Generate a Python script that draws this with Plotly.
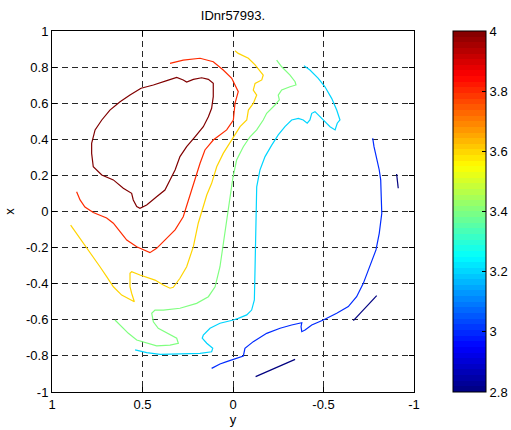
import plotly.graph_objects as go
import numpy as np

# ---------------- data ----------------
# contour levels
lvl_darkred = 4.0
lvl_red = 3.8
lvl_yellow = 3.6
lvl_green = 3.4
lvl_cyan = 3.2
lvl_blue = 3.0
lvl_navy = 2.8

# each contour: horizontal value ("y" axis, reversed) and vertical value ("x")
c40_h = [0.508, 0.440, 0.366, 0.311, 0.275, 0.256, 0.219, 0.173, 0.136, 0.109, 0.109, 0.118,
         0.136, 0.164, 0.210, 0.256, 0.293, 0.320, 0.348, 0.376, 0.422, 0.477, 0.514, 0.532,
         0.551, 0.560, 0.606, 0.661, 0.725, 0.772, 0.781, 0.781, 0.762, 0.725, 0.680, 0.624,
         0.569, 0.508]
c40_v = [0.683, 0.701, 0.725, 0.743, 0.729, 0.717, 0.732, 0.741, 0.732, 0.710, 0.636, 0.572,
         0.525, 0.470, 0.414, 0.359, 0.304, 0.230, 0.175, 0.119, 0.082, 0.036, 0.018, 0.027,
         0.064, 0.101, 0.129, 0.175, 0.202, 0.248, 0.322, 0.378, 0.452, 0.507, 0.562, 0.608,
         0.645, 0.683]

c38_h = [0.864, 0.845, 0.818, 0.772, 0.698, 0.661, 0.624, 0.587, 0.532, 0.496, 0.459, 0.422,
         0.376, 0.320, 0.275, 0.247, 0.210, 0.182, 0.155, 0.109, 0.035, -0.002, -0.011, -0.029,
         0.007, 0.054, 0.109, 0.182, 0.275, 0.348]
c38_v = [0.110, 0.064, 0.025, -0.006, -0.036, -0.065, -0.112, -0.158, -0.195, -0.213, -0.228,
         -0.204, -0.158, -0.102, -0.029, 0.064, 0.175, 0.267, 0.341, 0.396, 0.452, 0.507, 0.599,
         0.664, 0.738, 0.784, 0.830, 0.849, 0.839, 0.821]

c36_h = [0.897, 0.864, 0.827, 0.772, 0.735, 0.698, 0.661, 0.615, 0.569, 0.545, 0.560, 0.569,
         0.569, 0.560, 0.514, 0.477, 0.431, 0.385, 0.348, 0.330, 0.293, 0.256, 0.219, 0.192,
         0.164, 0.145, 0.118, 0.090, 0.054, 0.017, -0.017, -0.039, -0.076, -0.085, -0.112,
         -0.131, -0.112, -0.122, -0.159, -0.167, -0.122, -0.085, -0.029, -0.011]
c36_v = [-0.075, -0.121, -0.176, -0.250, -0.306, -0.361, -0.417, -0.463, -0.490, -0.500, -0.453,
         -0.417, -0.342, -0.334, -0.352, -0.365, -0.380, -0.407, -0.425, -0.420, -0.370, -0.306,
         -0.195, -0.065, 0.036, 0.091, 0.156, 0.248, 0.322, 0.378, 0.433, 0.470, 0.507, 0.562,
         0.599, 0.645, 0.673, 0.710, 0.729, 0.756, 0.812, 0.849, 0.876, 0.891]

c34_h = [0.652, 0.615, 0.578, 0.532, 0.477, 0.422, 0.348, 0.302, 0.311, 0.357, 0.413, 0.440,
         0.449, 0.431, 0.385, 0.293, 0.201, 0.136, 0.099, 0.072, 0.054, 0.035, 0.026, 0.017,
         0.000, -0.020, -0.057, -0.094, -0.131, -0.167, -0.186, -0.232, -0.256, -0.250, -0.269,
         -0.315, -0.348, -0.343, -0.315, -0.269, -0.241]
c34_v = [-0.601, -0.638, -0.675, -0.712, -0.730, -0.744, -0.740, -0.730, -0.702, -0.675, -0.647,
         -0.611, -0.564, -0.546, -0.546, -0.536, -0.509, -0.472, -0.417, -0.306, -0.176, -0.047,
         0.003, 0.091, 0.191, 0.285, 0.359, 0.414, 0.452, 0.507, 0.544, 0.590, 0.618, 0.645,
         0.673, 0.691, 0.701, 0.719, 0.756, 0.802, 0.839]

c32_h = [0.541, 0.477, 0.403, 0.293, 0.182, 0.118, 0.112, 0.145, 0.170, 0.164, 0.127, 0.072,
         0.035, -0.002, -0.029, -0.076, -0.103, -0.118, -0.122, -0.125, -0.131, -0.149, -0.177,
         -0.214, -0.250, -0.287, -0.324, -0.361, -0.388, -0.410, -0.425, -0.435, -0.453, -0.471,
         -0.499, -0.536, -0.564, -0.576, -0.591, -0.573, -0.545, -0.508, -0.471, -0.425, -0.392]
c32_v = [-0.767, -0.782, -0.791, -0.789, -0.786, -0.777, -0.758, -0.730, -0.702, -0.684, -0.647,
         -0.619, -0.611, -0.601, -0.592, -0.573, -0.546, -0.490, -0.306, -0.047, 0.137, 0.230,
         0.304, 0.368, 0.424, 0.470, 0.507, 0.516, 0.507, 0.489, 0.507, 0.544, 0.553, 0.535,
         0.507, 0.470, 0.452, 0.489, 0.507, 0.562, 0.627, 0.691, 0.738, 0.784, 0.808]

c30_h = [0.118, 0.072, 0.035, -0.002, -0.057, -0.066, -0.112, -0.186, -0.260, -0.324, -0.380,
         -0.376, -0.380, -0.398, -0.435, -0.499, -0.573, -0.637, -0.683, -0.720, -0.757, -0.790,
         -0.808, -0.822, -0.819, -0.816, -0.808, -0.794, -0.779, -0.772]
c30_v = [-0.869, -0.845, -0.832, -0.819, -0.801, -0.758, -0.721, -0.675, -0.647, -0.629, -0.616,
         -0.638, -0.666, -0.657, -0.629, -0.601, -0.564, -0.527, -0.472, -0.398, -0.306, -0.213,
         -0.121, -0.010, 0.082, 0.175, 0.230, 0.285, 0.359, 0.406]

c28a_h = [-0.904, -0.913]
c28a_v = [0.208, 0.129]
c28b_h = [-0.794, -0.739, -0.665]
c28b_v = [-0.466, -0.527, -0.605]
c28c_h = [-0.343, -0.232, -0.125]
c28c_v = [-0.819, -0.869, -0.915]

x_ticks = [1, 0.5, 0, -0.5, -1]
x_ticklabels = ["1", "0.5", "0", "-0.5", "-1"]
y_ticks = [-1, -0.8, -0.6, -0.4, -0.2, 0, 0.2, 0.4, 0.6, 0.8, 1]
y_ticklabels = ["-1", "-0.8", "-0.6", "-0.4", "-0.2", "0", "0.2", "0.4", "0.6", "0.8", "1"]
cb_ticks = [2.8, 3.0, 3.2, 3.4, 3.6, 3.8, 4.0]
cb_ticklabels = ["2.8", "3", "3.2", "3.4", "3.6", "3.8", "4"]
c_min, c_max = 2.8, 4.0

# ---------------- styling helpers ----------------
def jet(v):
    r = min(max(1.5 - abs(4 * v - 3), 0), 1)
    g = min(max(1.5 - abs(4 * v - 2), 0), 1)
    b = min(max(1.5 - abs(4 * v - 1), 0), 1)
    return "rgb(%d,%d,%d)" % (round(r * 255), round(g * 255), round(b * 255))

def lvl_color(l):
    return jet((l - c_min) / (c_max - c_min))

ncol = 64
jet_scale = []
for i in range(ncol):
    c = jet((i + 0.5) / ncol)
    jet_scale.append([i / ncol, c])
    jet_scale.append([(i + 1) / ncol, c])

FONT = "Liberation Sans, Arial, Helvetica, sans-serif"

fig = go.Figure()

segments = [
    (c40_h, c40_v, lvl_darkred),
    (c38_h, c38_v, lvl_red),
    (c36_h, c36_v, lvl_yellow),
    (c34_h, c34_v, lvl_green),
    (c32_h, c32_v, lvl_cyan),
    (c30_h, c30_v, lvl_blue),
    (c28a_h, c28a_v, lvl_navy),
    (c28b_h, c28b_v, lvl_navy),
    (c28c_h, c28c_v, lvl_navy),
]
for h, v, l in segments:
    fig.add_trace(go.Scatter(x=h, y=v, mode="lines",
                             line=dict(color=lvl_color(l), width=1.2),
                             showlegend=False, hoverinfo="skip"))

# invisible trace carrying the colour bar
fig.add_trace(go.Scatter(
    x=[0, 0], y=[0, 0], mode="markers", showlegend=False, hoverinfo="skip",
    marker=dict(color=[c_min, c_max], cmin=c_min, cmax=c_max, colorscale=jet_scale,
                opacity=0, size=1, showscale=True,
                colorbar=dict(x=(453 - 52) / 362, xanchor="left", xpad=0,
                              y=0.5, yanchor="middle", len=1, lenmode="fraction", ypad=0,
                              thickness=33, outlinewidth=1, outlinecolor="black",
                              ticks="inside", ticklen=4, tickcolor="black",
                              tickvals=cb_ticks, ticktext=cb_ticklabels,
                              tickfont=dict(family=FONT, size=13, color="black"))),
))

grid = dict(showgrid=True, gridcolor="rgb(40,40,40)", gridwidth=1, griddash="6px,4px",
            zeroline=False, showline=True, linecolor="black", linewidth=1,
            mirror="ticks", ticks="inside", ticklen=5, tickcolor="black",
            tickfont=dict(family=FONT, size=13, color="black"))

fig.update_layout(
    width=511, height=430,
    margin=dict(l=52, r=97, t=31, b=38, autoexpand=False),
    paper_bgcolor="white", plot_bgcolor="white",
    font=dict(family=FONT, size=13, color="black"),
    title=dict(text="IDnr57993.", x=0.5, xref="paper",
               y=1 - 15 / 430, yref="container", yanchor="middle", xanchor="center",
               font=dict(family=FONT, size=13, color="black")),
    xaxis=dict(range=[1, -1], tickvals=x_ticks, ticktext=x_ticklabels,
               title=dict(text="y", standoff=2, font=dict(family=FONT, size=13)), **grid),
    yaxis=dict(range=[-1, 1], tickvals=y_ticks, ticktext=y_ticklabels,
               title=dict(text="x", standoff=8, font=dict(family=FONT, size=13)), **grid),
)

fig.write_html("out.html")
